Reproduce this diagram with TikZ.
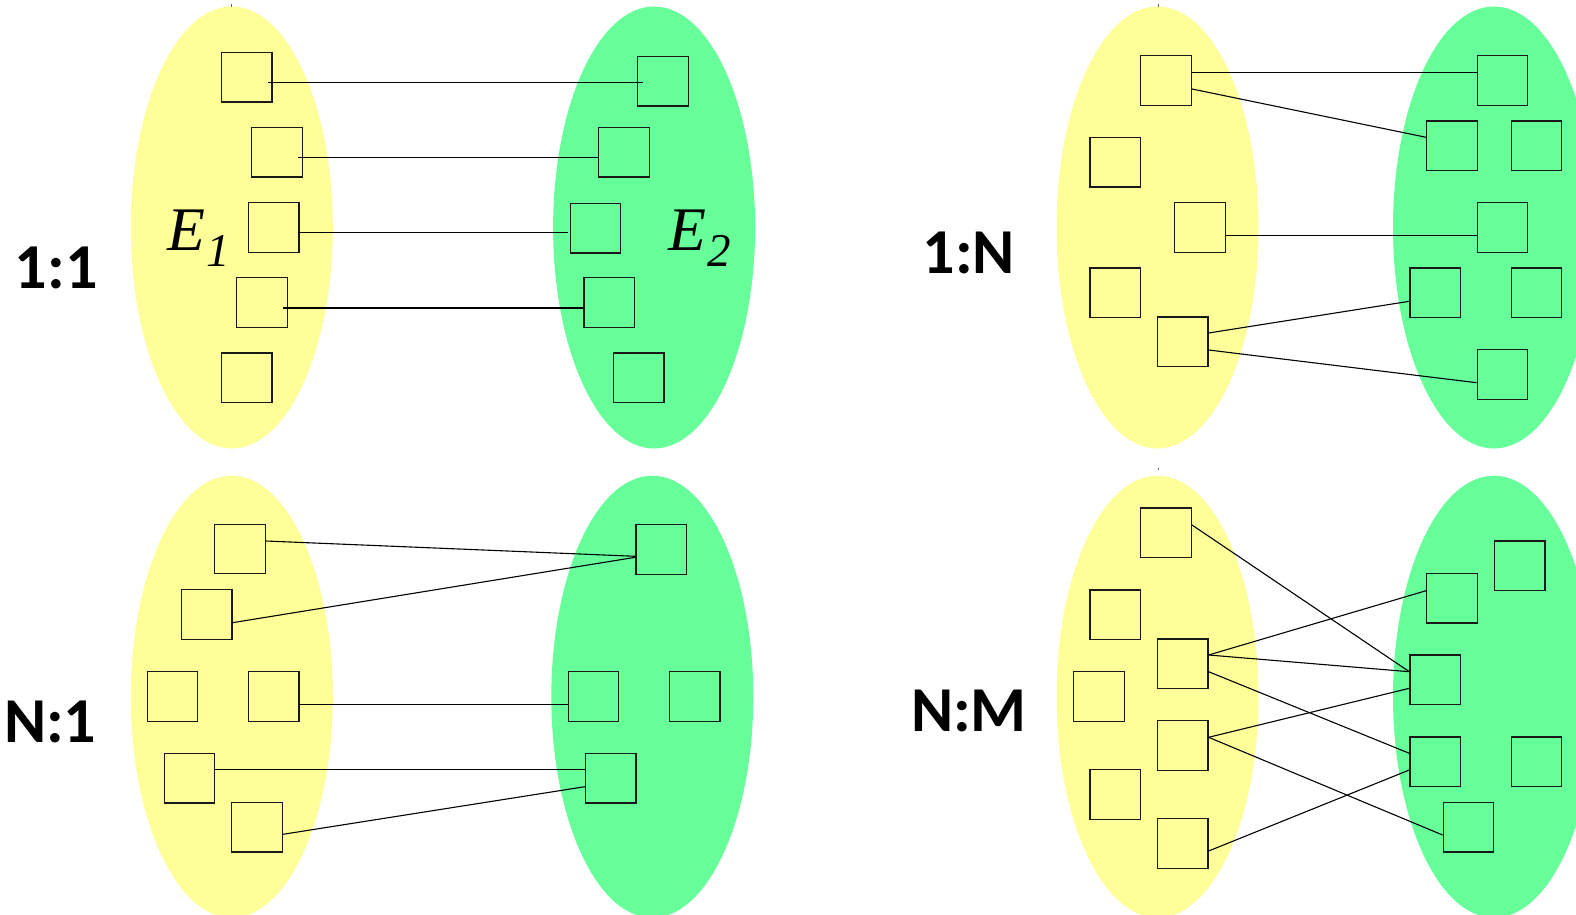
\documentclass[tikz,border=0pt]{standalone}
\usepackage{fontspec}
\setmainfont{Liberation Serif}
\newfontfamily\labfont{Carlito}
\usetikzlibrary{calc}
\definecolor{ylw}{HTML}{FFFF99}
\definecolor{grn}{HTML}{66FF99}
\begin{document}
\begin{tikzpicture}[x=0.5pt,y=-0.5pt,
  ebox/.style={draw=black!90,line width=0.6pt,minimum width=25.3pt,minimum height=24.8pt,inner sep=0pt},
  link/.style={line width=0.55pt,draw=black},
  card/.style={font=\labfont\bfseries\fontsize{32}{32}\selectfont,anchor=base,inner sep=0pt},
  ename/.style={font=\fontsize{31}{31}\selectfont\itshape,anchor=base west,inner sep=0pt},
  tick/.style={draw=black!60,line width=0.5pt}]
\useasboundingbox (0,0) rectangle (1576,915);
\clip (0,0) rectangle (1576,915);
% ellipses
\fill[ylw] (231.8,227.5) ellipse [x radius=50.5pt, y radius=110.5pt];
\fill[grn] (654.1,227.5) ellipse [x radius=50.5pt, y radius=110.5pt];
\fill[ylw] (1157.5,227.5) ellipse [x radius=50.5pt, y radius=110.5pt];
\fill[grn] (1494,227.5) ellipse [x radius=50.5pt, y radius=110.5pt];
\fill[ylw] (231.8,696.7) ellipse [x radius=50.5pt, y radius=110.5pt];
\fill[grn] (652.3,696.7) ellipse [x radius=50.5pt, y radius=110.5pt];
\fill[ylw] (1157.5,696.7) ellipse [x radius=50.5pt, y radius=110.5pt];
\fill[grn] (1494,696.7) ellipse [x radius=50.5pt, y radius=110.5pt];
\draw[tick] (231.5,4.5) -- (231.5,7);
\draw[tick] (1158,4.5) -- (1158,7);
\draw[tick] (1158,467.5) -- (1158,470);

% ---------- 1:1 ----------
\node[card] (l11) at (56.2,288) {1:1};
\node[ename] (e1) at (167,250) {E\kern0.5pt\raisebox{-8pt}{\fontsize{23.5}{23.5}\selectfont 1}};
\node[ename] (e2) at (668,250) {E\kern0.5pt\raisebox{-8pt}{\fontsize{23.5}{23.5}\selectfont 2}};
\node[ebox] (Y1) at (246.7,77.2) {};
\node[ebox] (Y2) at (276.8,152.3) {};
\node[ebox] (Y3) at (273.7,227.7) {};
\node[ebox] (Y4) at (262.1,302.5) {};
\node[ebox] (Y5) at (246.7,377.7) {};
\node[ebox] (G1) at (663.0,81.2) {};
\node[ebox] (G2) at (623.8,152.3) {};
\node[ebox] (G3) at (595.4,228.2) {};
\node[ebox] (G4) at (609.2,302.5) {};
\node[ebox] (G5) at (638.7,377.7) {};
\draw[link] ($(Y1.east)+(-5,5.5)$) -- ($(G1.west)+(6,1.5)$);
\draw[link] ($(Y2.east)+(-5,5.4)$) -- ($(G2.west)+(0,5.4)$);
\draw[link] ($(Y3.east)+(-2,5)$) -- ($(G3.west)+(-2,4.5)$);
\draw[link] ($(Y4.east)+(-5,5.5)$) -- ($(G4.west)+(0,5.5)$);

% ---------- 1:N ----------
\node[card] (l1n) at (969,273) {1:N};
\node[ebox] (A1) at (1166.1,80.5) {};
\node[ebox] (A2) at (1115.3,162.2) {};
\node[ebox] (A3) at (1199.8,227.7) {};
\node[ebox] (A4) at (1115.3,292.8) {};
\node[ebox] (A5) at (1182.7,341.8) {};
\node[ebox] (B1) at (1502.5,80.5) {};
\node[ebox] (B2) at (1452,145.9) {};
\node[ebox] (B3) at (1536.4,145.9) {};
\node[ebox] (B4) at (1502.5,227.7) {};
\node[ebox] (B5) at (1435.2,292.8) {};
\node[ebox] (B6) at (1536.4,292.8) {};
\node[ebox] (B7) at (1502.5,374.4) {};
\draw[link] ($(A1.east)+(0,-8.2)$) -- ($(B1.west)+(0,-8.2)$);
\draw[link] ($(A1.east)+(0,8.5)$) -- ($(B2.west)+(0,-8.6)$);
\draw[link] ($(A3.east)+(0,7.6)$) -- ($(B4.west)+(0,7.6)$);
\draw[link] ($(A5.east)+(0,-8.8)$) -- ($(B5.west)+(0,8.5)$);
\draw[link] ($(A5.east)+(0,8.2)$) -- ($(B7.west)+(0,8.3)$);

% ---------- N:1 ----------
\node[card] (ln1) at (50.2,742.3) {N:1};
\node[ebox] (C1) at (239.8,549) {};
\node[ebox] (C2) at (206.6,614.3) {};
\node[ebox] (C3) at (172.4,696.3) {};
\node[ebox] (C4) at (273.7,696.3) {};
\node[ebox] (C5) at (189.5,778.2) {};
\node[ebox] (C6) at (257.1,827.2) {};
\node[ebox] (D1) at (661.2,549.3) {};
\node[ebox] (D2) at (593.4,696.3) {};
\node[ebox] (D3) at (694.6,696.3) {};
\node[ebox] (D4) at (610.7,778.2) {};
\draw[link] ($(C1.east)+(0,-8)$) -- ($(D1.west)+(0,7)$);
\draw[link] ($(C2.east)+(0,8.4)$) -- ($(D1.west)+(0,8)$);
\draw[link] ($(C4.east)+(0,8)$) -- ($(D2.west)+(0,8)$);
\draw[link] ($(C5.east)+(0,-8.5)$) -- ($(D4.west)+(0,-8.5)$);
\draw[link] ($(C6.east)+(0,7.1)$) -- ($(D4.west)+(0,8.5)$);

% ---------- N:M ----------
\node[card] (lnm) at (969,731.7) {N:M};
\node[ebox] (E1) at (1166.1,532.8) {};
\node[ebox] (E2) at (1115.3,614.7) {};
\node[ebox] (E3) at (1182.7,663.7) {};
\node[ebox] (E4) at (1099,696.3) {};
\node[ebox] (E5) at (1182.7,745.3) {};
\node[ebox] (E6) at (1115.3,794.3) {};
\node[ebox] (E7) at (1182.7,843.3) {};
\node[ebox] (F1) at (1519.6,565.7) {};
\node[ebox] (F2) at (1452,598.2) {};
\node[ebox] (F3) at (1435.2,679.8) {};
\node[ebox] (F4) at (1435.2,761.7) {};
\node[ebox] (F5) at (1536.4,761.7) {};
\node[ebox] (F6) at (1468.5,827.2) {};
\draw[link] ($(E1.east)+(0,-7.8)$) -- ($(F3.west)+(0,-8.1)$);
\draw[link] ($(E3.east)+(0,-8.7)$) -- ($(F2.west)+(0,-7.5)$);
\draw[link] ($(E3.east)+(0,-8.7)$) -- ($(F3.west)+(0,-8.1)$);
\draw[link] ($(E3.east)+(0,8)$) -- ($(F4.west)+(0,-8.4)$);
\draw[link] ($(E5.east)+(0,-8)$) -- ($(F3.west)+(0,8.5)$);
\draw[link] ($(E5.east)+(0,-8)$) -- ($(F6.west)+(0,7.8)$);
\draw[link] ($(E7.east)+(0,7.7)$) -- ($(F4.west)+(0,8.3)$);
\end{tikzpicture}
\end{document}
